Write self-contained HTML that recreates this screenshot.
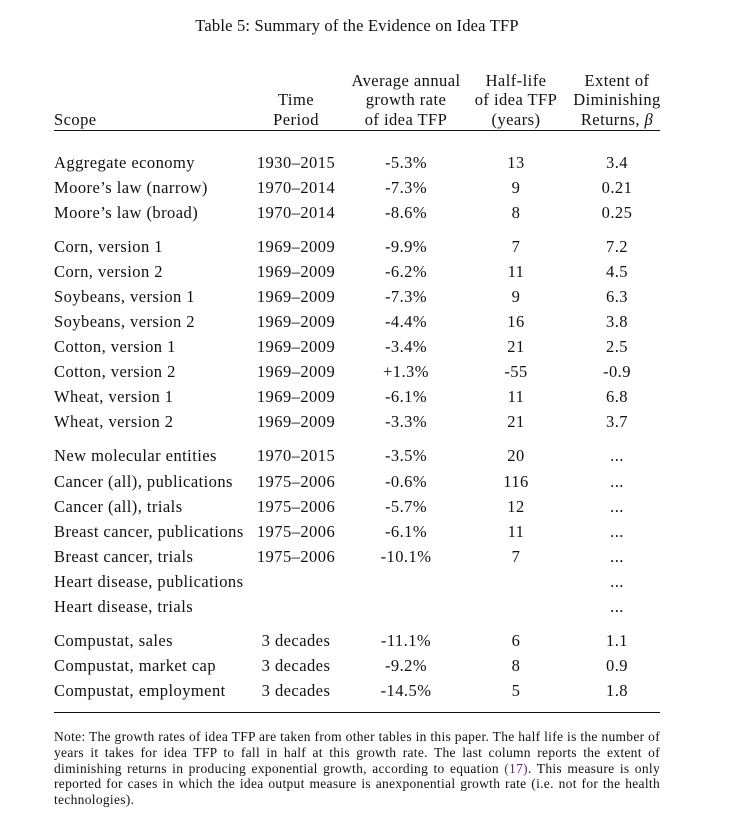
<!DOCTYPE html>
<html><head><meta charset="utf-8"><style>
body{margin:0;background:#fff;}
#p{position:relative;width:750px;height:830px;font-family:"Liberation Serif",serif;color:#111;font-size:16.5px;letter-spacing:0.45px;}
.r{position:absolute;left:0;width:750px;height:20px;line-height:20px;}
.r span{position:absolute;text-align:center;width:140px;white-space:nowrap;}
.r span.s{left:54px;text-align:left;width:240px;}
.c1{left:226px}.c2{left:336px}.c3{left:446px}.c4{left:547px}
.hr{position:absolute;left:54px;width:606px;height:1.3px;background:#111;}
.note{position:absolute;left:54px;top:729px;width:606px;font-size:13.5px;letter-spacing:0.3px;line-height:15.8px;text-align:justify;}
</style></head><body><div id="p">
<div style="position:absolute;top:16px;left:193px;width:328px;text-align:center;font-size:16.5px;letter-spacing:0.2px;line-height:20px;white-space:nowrap">Table 5: Summary of the Evidence on Idea TFP</div>
<div class="r" style="top:71px"><span class="c2">Average annual</span><span class="c3">Half-life</span><span class="c4">Extent of</span></div>
<div class="r" style="top:90px"><span class="c1">Time</span><span class="c2">growth rate</span><span class="c3">of idea TFP</span><span class="c4">Diminishing</span></div>
<div class="r" style="top:110px"><span class="s">Scope</span><span class="c1">Period</span><span class="c2">of idea TFP</span><span class="c3">(years)</span><span class="c4">Returns, <i>β</i></span></div>
<div class="hr" style="top:130px"></div>
<div class="r" style="top:153px"><span class="s">Aggregate economy</span><span class="c1">1930–2015</span><span class="c2">-5.3%</span><span class="c3">13</span><span class="c4">3.4</span></div>
<div class="r" style="top:178px"><span class="s">Moore’s law (narrow)</span><span class="c1">1970–2014</span><span class="c2">-7.3%</span><span class="c3">9</span><span class="c4">0.21</span></div>
<div class="r" style="top:203px"><span class="s">Moore’s law (broad)</span><span class="c1">1970–2014</span><span class="c2">-8.6%</span><span class="c3">8</span><span class="c4">0.25</span></div>
<div class="r" style="top:237px"><span class="s">Corn, version 1</span><span class="c1">1969–2009</span><span class="c2">-9.9%</span><span class="c3">7</span><span class="c4">7.2</span></div>
<div class="r" style="top:262px"><span class="s">Corn, version 2</span><span class="c1">1969–2009</span><span class="c2">-6.2%</span><span class="c3">11</span><span class="c4">4.5</span></div>
<div class="r" style="top:287px"><span class="s">Soybeans, version 1</span><span class="c1">1969–2009</span><span class="c2">-7.3%</span><span class="c3">9</span><span class="c4">6.3</span></div>
<div class="r" style="top:312px"><span class="s">Soybeans, version 2</span><span class="c1">1969–2009</span><span class="c2">-4.4%</span><span class="c3">16</span><span class="c4">3.8</span></div>
<div class="r" style="top:337px"><span class="s">Cotton, version 1</span><span class="c1">1969–2009</span><span class="c2">-3.4%</span><span class="c3">21</span><span class="c4">2.5</span></div>
<div class="r" style="top:362px"><span class="s">Cotton, version 2</span><span class="c1">1969–2009</span><span class="c2">+1.3%</span><span class="c3">-55</span><span class="c4">-0.9</span></div>
<div class="r" style="top:387px"><span class="s">Wheat, version 1</span><span class="c1">1969–2009</span><span class="c2">-6.1%</span><span class="c3">11</span><span class="c4">6.8</span></div>
<div class="r" style="top:412px"><span class="s">Wheat, version 2</span><span class="c1">1969–2009</span><span class="c2">-3.3%</span><span class="c3">21</span><span class="c4">3.7</span></div>
<div class="r" style="top:446px"><span class="s">New molecular entities</span><span class="c1">1970–2015</span><span class="c2">-3.5%</span><span class="c3">20</span><span class="c4">...</span></div>
<div class="r" style="top:472px"><span class="s">Cancer (all), publications</span><span class="c1">1975–2006</span><span class="c2">-0.6%</span><span class="c3">116</span><span class="c4">...</span></div>
<div class="r" style="top:497px"><span class="s">Cancer (all), trials</span><span class="c1">1975–2006</span><span class="c2">-5.7%</span><span class="c3">12</span><span class="c4">...</span></div>
<div class="r" style="top:522px"><span class="s">Breast cancer, publications</span><span class="c1">1975–2006</span><span class="c2">-6.1%</span><span class="c3">11</span><span class="c4">...</span></div>
<div class="r" style="top:547px"><span class="s">Breast cancer, trials</span><span class="c1">1975–2006</span><span class="c2">-10.1%</span><span class="c3">7</span><span class="c4">...</span></div>
<div class="r" style="top:572px"><span class="s">Heart disease, publications</span><span class="c4">...</span></div>
<div class="r" style="top:597px"><span class="s">Heart disease, trials</span><span class="c4">...</span></div>
<div class="r" style="top:631px"><span class="s">Compustat, sales</span><span class="c1">3 decades</span><span class="c2">-11.1%</span><span class="c3">6</span><span class="c4">1.1</span></div>
<div class="r" style="top:656px"><span class="s">Compustat, market cap</span><span class="c1">3 decades</span><span class="c2">-9.2%</span><span class="c3">8</span><span class="c4">0.9</span></div>
<div class="r" style="top:681px"><span class="s">Compustat, employment</span><span class="c1">3 decades</span><span class="c2">-14.5%</span><span class="c3">5</span><span class="c4">1.8</span></div>
<div class="hr" style="top:712px"></div>
<div class="note">Note: The growth rates of idea TFP are taken from other tables in this paper. The half life is the number of years it takes for idea TFP to fall in half at this growth rate. The last column reports the extent of diminishing returns in producing exponential growth, according to equation <span style="color:#5a2a6a">(17)</span>. This measure is only reported for cases in which the idea output measure is anexponential growth rate (i.e. not for the health technologies).</div>
</div></body></html>
